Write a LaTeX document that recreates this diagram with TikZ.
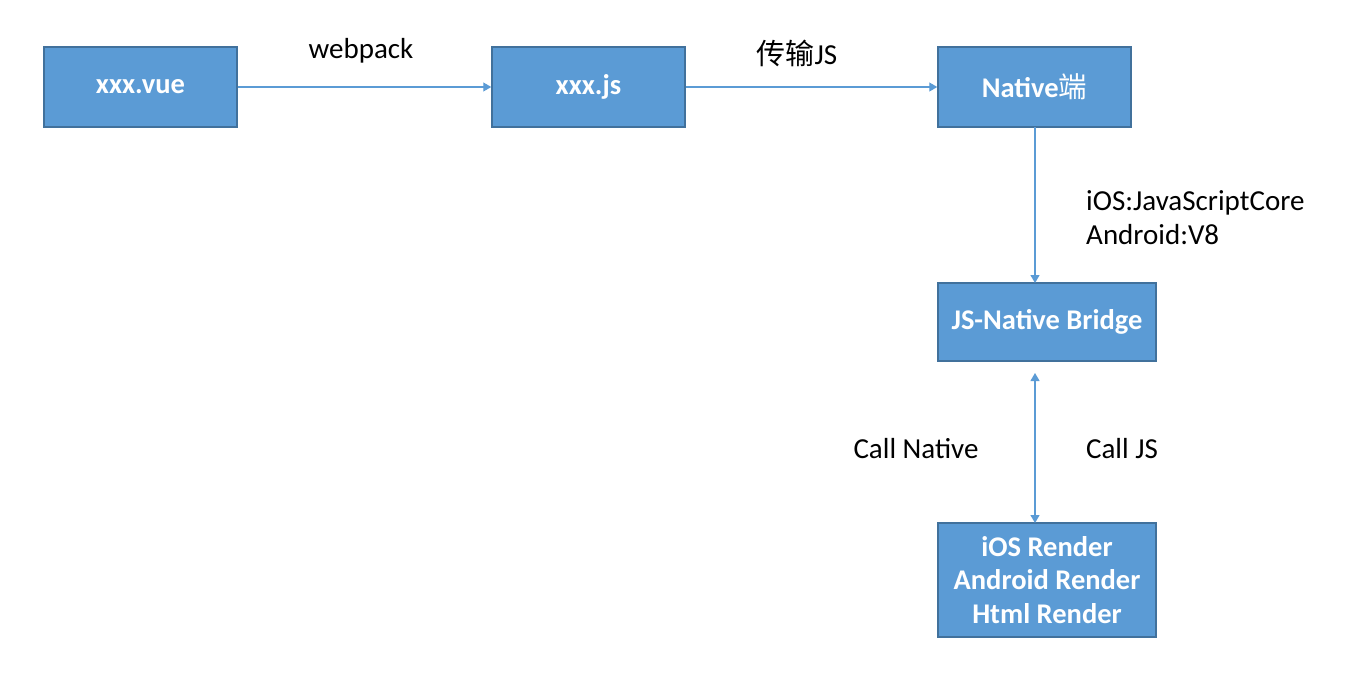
\documentclass[tikz,border=0pt]{standalone}
\usepackage{fontspec}
\setmainfont{Carlito}
\newfontfamily\cjk{Noto Sans CJK SC}
\usetikzlibrary{arrows.meta}
\definecolor{boxfill}{HTML}{5B9BD5}
\definecolor{boxline}{HTML}{41719C}
\definecolor{arr}{HTML}{5B9BD5}
\begin{document}
\begin{tikzpicture}[x=1pt,y=-1pt,
  blk/.style={draw=boxline, line width=1.5pt, fill=boxfill, text=white, font=\fontsize{28.5}{33.5}\selectfont\bfseries, align=center, inner sep=0pt},
  conn/.style={draw=arr, line width=1.2pt, -{Triangle[length=8pt,width=9pt]}},
  lbl/.style={font=\fontsize{29}{34}\selectfont, text=black, inner sep=0pt}]
\useasboundingbox (0,0) rectangle (1372,680);
\node[blk, minimum width=193pt, minimum height=80pt] (vue) at (140.5,87) {xxx.vue};
\node[blk, minimum width=193pt, minimum height=80pt] (js) at (588.5,87) {xxx.js};
\node[blk, minimum width=193pt, minimum height=80pt] (nat) at (1034.5,87) {Native{\cjk\mdseries 端}};
\node[blk, minimum width=218pt, minimum height=78pt] (bridge) at (1047,322) {JS-Native Bridge};
\node[blk, minimum width=218pt, minimum height=114pt] (render) at (1047,580) {iOS Render\\Android Render\\Html Render};
\coordinate (ntop) at (1035,127);
\coordinate (nb) at (1035,283);
\coordinate (bb) at (1035,373);
\coordinate (rt) at (1035,523);
\draw[conn] (vue.east) -- (js.west);
\draw[conn] (js.east) -- (nat.west);
\draw[conn] (ntop) -- (nb);
\draw[conn, {Triangle[length=8pt,width=9pt]}-{Triangle[length=8pt,width=9pt]}] (bb) -- (rt);
\node[lbl] (lw) at (361,51) {webpack};
\node[lbl] (lt) at (797,53) {{\cjk 传输}JS};
\node[lbl, anchor=west, align=left] (le) at (1086,218) {iOS:JavaScriptCore\\Android:V8};
\node[lbl] (lcn) at (916,449) {Call Native};
\node[lbl] (lcj) at (1122,449) {Call JS};
\end{tikzpicture}
\end{document}
